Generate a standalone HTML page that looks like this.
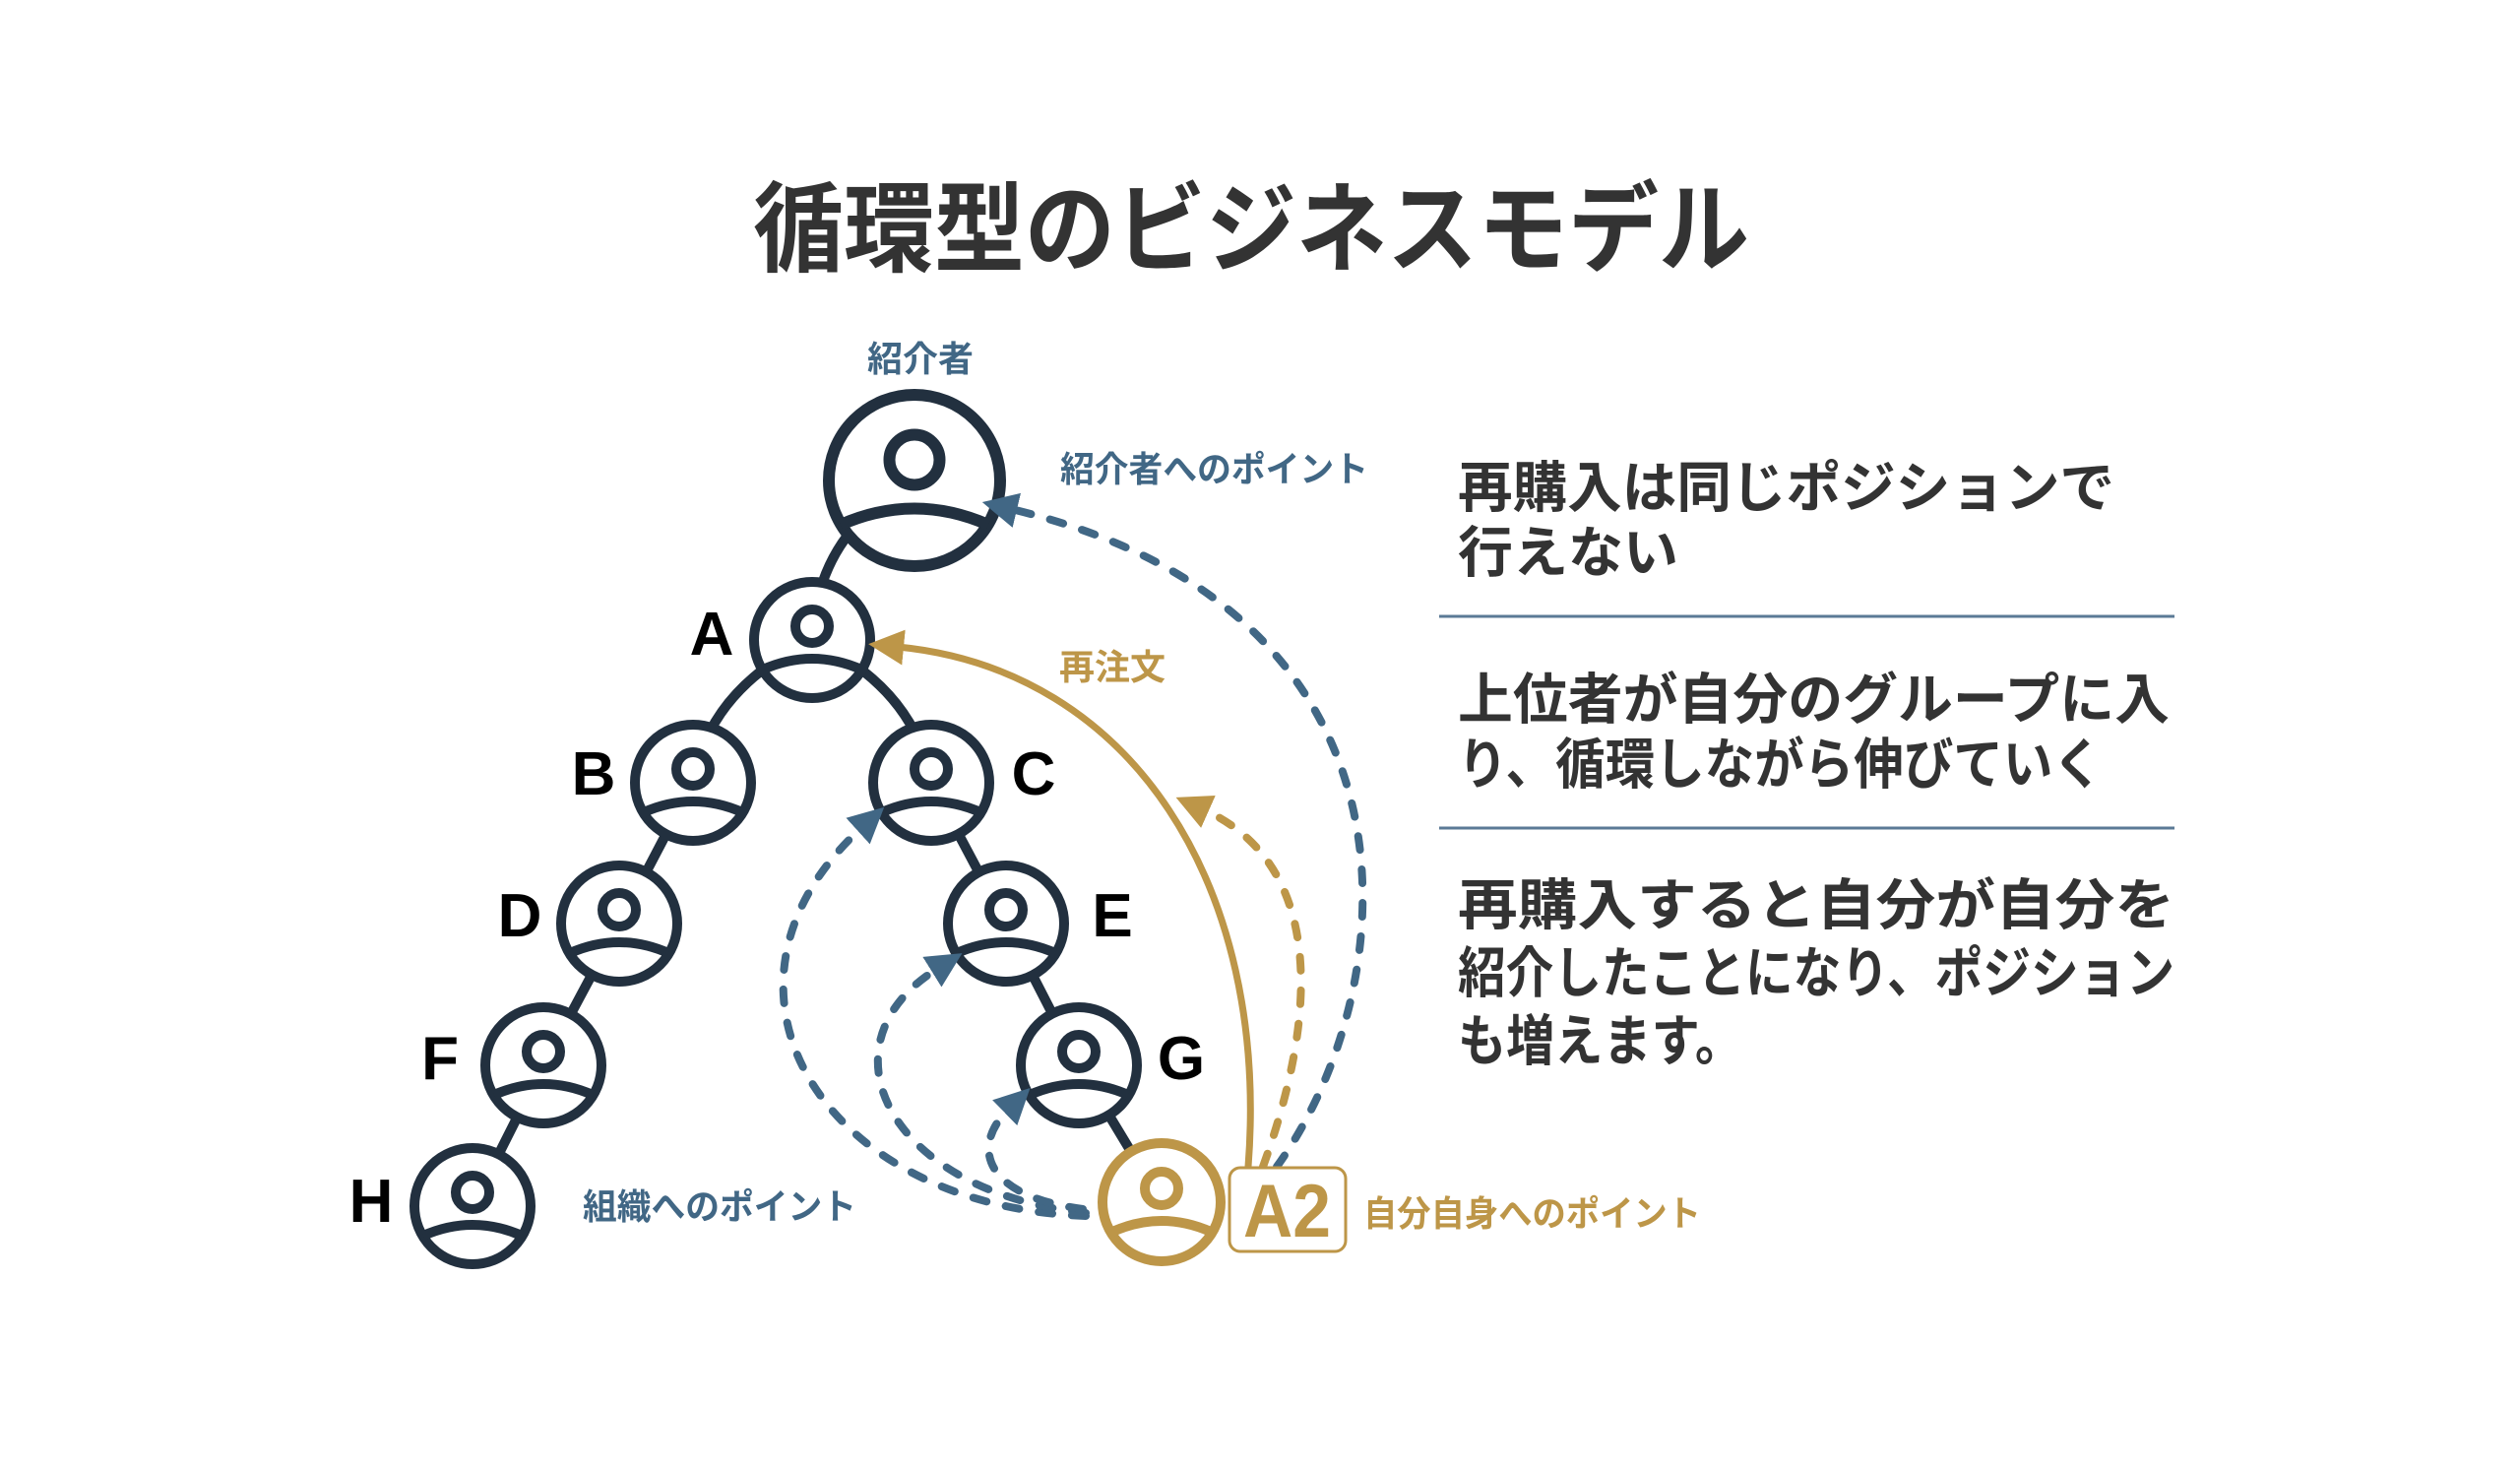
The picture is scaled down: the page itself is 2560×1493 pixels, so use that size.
<!DOCTYPE html>
<html><head><meta charset="utf-8"><style>
html,body{margin:0;padding:0;background:#fff;}
svg{display:block}
text{font-family:"Liberation Sans","Noto Sans CJK JP",sans-serif;font-weight:bold}
</style></head><body>
<svg width="2560" height="1493" viewBox="0 0 2560 1493" xmlns="http://www.w3.org/2000/svg">
<defs>
<marker id="ab" markerUnits="userSpaceOnUse" markerWidth="40" markerHeight="40" refX="6" refY="18" orient="auto"><path d="M0,0 L36,18 L0,36 Z" fill="#416785"/></marker>
<marker id="ag" markerUnits="userSpaceOnUse" markerWidth="40" markerHeight="40" refX="6" refY="18" orient="auto"><path d="M0,0 L36,18 L0,36 Z" fill="#bd9648"/></marker>
</defs>

<text x="765" y="268" font-size="100" fill="#333" textLength="1012" lengthAdjust="spacingAndGlyphs">循環型のビジネスモデル</text>

<!-- edges -->
<g stroke="#22303f" stroke-width="10" fill="none">
<path d="M825,650 Q830,540 929,488"/>
<path d="M825,650 Q720,700 704,795"/>
<path d="M825,650 Q930,700 946,795"/>
<path d="M704,795 L629,938 L552,1082 L480,1225"/>
<path d="M946,795 L1022,938 L1096,1082 L1180,1221"/>
</g>

<!-- top node -->
<g transform="translate(929,488) scale(1.5)" fill="none">
<circle r="58" fill="#fff" stroke="#22303f" stroke-width="8"/>
<circle cy="-14" r="17" stroke="#22303f" stroke-width="8"/>
<path d="M-50,30 Q0,8 50,30" stroke="#22303f" stroke-width="8"/>
</g>
<g>
<g transform="translate(825,650)"><circle r="59" fill="#fff" stroke="#22303f" stroke-width="10"/><circle cy="-14" r="17" fill="none" stroke="#22303f" stroke-width="10"/><path d="M-50,30 Q0,8 50,30" fill="none" stroke="#22303f" stroke-width="10"/></g>
<g transform="translate(704,795)"><circle r="59" fill="#fff" stroke="#22303f" stroke-width="10"/><circle cy="-14" r="17" fill="none" stroke="#22303f" stroke-width="10"/><path d="M-50,30 Q0,8 50,30" fill="none" stroke="#22303f" stroke-width="10"/></g>
<g transform="translate(946,795)"><circle r="59" fill="#fff" stroke="#22303f" stroke-width="10"/><circle cy="-14" r="17" fill="none" stroke="#22303f" stroke-width="10"/><path d="M-50,30 Q0,8 50,30" fill="none" stroke="#22303f" stroke-width="10"/></g>
<g transform="translate(629,938)"><circle r="59" fill="#fff" stroke="#22303f" stroke-width="10"/><circle cy="-14" r="17" fill="none" stroke="#22303f" stroke-width="10"/><path d="M-50,30 Q0,8 50,30" fill="none" stroke="#22303f" stroke-width="10"/></g>
<g transform="translate(1022,938)"><circle r="59" fill="#fff" stroke="#22303f" stroke-width="10"/><circle cy="-14" r="17" fill="none" stroke="#22303f" stroke-width="10"/><path d="M-50,30 Q0,8 50,30" fill="none" stroke="#22303f" stroke-width="10"/></g>
<g transform="translate(552,1082)"><circle r="59" fill="#fff" stroke="#22303f" stroke-width="10"/><circle cy="-14" r="17" fill="none" stroke="#22303f" stroke-width="10"/><path d="M-50,30 Q0,8 50,30" fill="none" stroke="#22303f" stroke-width="10"/></g>
<g transform="translate(1096,1082)"><circle r="59" fill="#fff" stroke="#22303f" stroke-width="10"/><circle cy="-14" r="17" fill="none" stroke="#22303f" stroke-width="10"/><path d="M-50,30 Q0,8 50,30" fill="none" stroke="#22303f" stroke-width="10"/></g>
<g transform="translate(480,1225)"><circle r="59" fill="#fff" stroke="#22303f" stroke-width="10"/><circle cy="-14" r="17" fill="none" stroke="#22303f" stroke-width="10"/><path d="M-50,30 Q0,8 50,30" fill="none" stroke="#22303f" stroke-width="10"/></g>
<g transform="translate(1180,1221)"><circle r="60" fill="#fff" stroke="#bd9648" stroke-width="10"/><circle cy="-14" r="17" fill="none" stroke="#bd9648" stroke-width="10"/><path d="M-50,30 Q0,8 50,30" fill="none" stroke="#bd9648" stroke-width="10"/></g>
</g>

<!-- connectors -->
<g fill="none" stroke-width="8" stroke-linecap="round">
<path d="M1268,1185 C1290,900 1150,680 912,657" stroke="#bd9648" stroke-width="7" marker-end="url(#ag)"/>
<path d="M1283,1185 C1350,1000 1330,870 1222,822" stroke="#bd9648" stroke-dasharray="14 20" marker-end="url(#ag)"/>
<path d="M1297,1185 C1430,1000 1460,620 1027,517" stroke="#416785" stroke-dasharray="14 20" marker-end="url(#ab)"/>
<path d="M1103,1235 C830,1225 700,1000 876,840" stroke="#416785" stroke-dasharray="14 20" marker-end="url(#ab)"/>
<path d="M1103,1232 C900,1210 830,1060 952,984" stroke="#416785" stroke-dasharray="14 20" marker-end="url(#ab)"/>
<path d="M1100,1228 C1000,1215 985,1165 1025,1126" stroke="#416785" stroke-dasharray="14 20" marker-end="url(#ab)"/>
</g>

<!-- letters -->
<g font-size="62" fill="#000" text-anchor="middle">
<text x="723" y="665">A</text>
<text x="603" y="807">B</text>
<text x="1050" y="807">C</text>
<text x="528" y="951">D</text>
<text x="1130" y="951">E</text>
<text x="447" y="1096">F</text>
<text x="1200" y="1096">G</text>
<text x="377" y="1241">H</text>
</g>

<!-- A2 box -->
<rect x="1249" y="1186" width="118" height="85" rx="11" fill="#fff" stroke="#bd9648" stroke-width="3"/>
<text x="1263" y="1256" font-size="76" fill="#bd9648" textLength="89" lengthAdjust="spacingAndGlyphs">A2</text>

<!-- labels -->
<text x="935" y="377" font-size="36" fill="#416785" text-anchor="middle">紹介者</text>
<text x="1077" y="489" font-size="36" fill="#416785" textLength="313" lengthAdjust="spacingAndGlyphs">紹介者へのポイント</text>
<text x="592" y="1238" font-size="36" fill="#416785" textLength="278" lengthAdjust="spacingAndGlyphs">組織へのポイント</text>
<text x="1130" y="690" font-size="36" fill="#bd9648" text-anchor="middle">再注文</text>
<text x="1385" y="1245" font-size="36" fill="#bd9648" textLength="343" lengthAdjust="spacingAndGlyphs">自分自身へのポイント</text>

<!-- right text -->
<g font-size="56" fill="#333">
<text x="1481" y="515" textLength="667" lengthAdjust="spacingAndGlyphs">再購入は同じポジションで</text>
<text x="1481" y="581" textLength="224" lengthAdjust="spacingAndGlyphs">行えない</text>
<text x="1481" y="730" textLength="723" lengthAdjust="spacingAndGlyphs">上位者が自分のグループに入</text>
<text x="1481" y="796" textLength="655" lengthAdjust="spacingAndGlyphs">り、循環しながら伸びていく</text>
<text x="1481" y="939" textLength="728" lengthAdjust="spacingAndGlyphs">再購入すると自分が自分を</text>
<text x="1481" y="1008" textLength="728" lengthAdjust="spacingAndGlyphs">紹介したことになり、ポジション</text>
<text x="1481" y="1077" textLength="290" lengthAdjust="spacingAndGlyphs">も増えます。</text>
</g>
<g stroke="#5b7a96" stroke-width="3">
<line x1="1462" y1="626" x2="2209" y2="626"/>
<line x1="1462" y1="841" x2="2209" y2="841"/>
</g>
</svg>
</body></html>
